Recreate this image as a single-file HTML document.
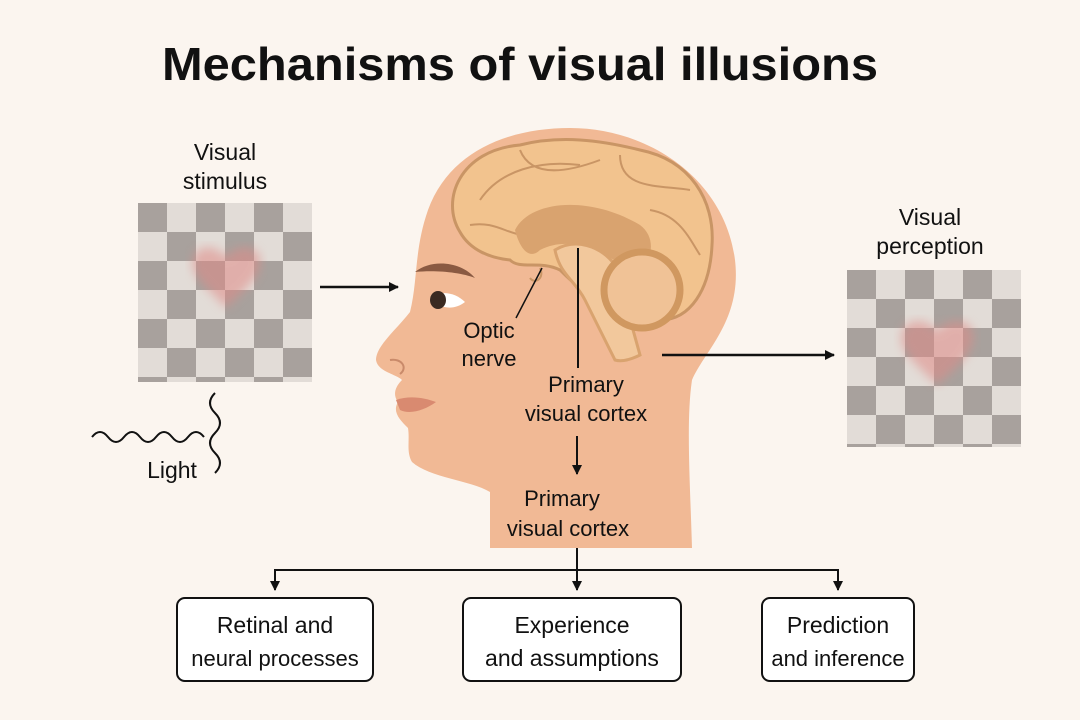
<!DOCTYPE html>
<html><head><meta charset="utf-8"><style>
body{margin:0;background:#fbf5ef;}
svg{display:block}
text{font-family:"Liberation Sans","DejaVu Sans",sans-serif;fill:#111}
</style></head><body>
<svg width="1080" height="720" viewBox="0 0 1080 720" xmlns="http://www.w3.org/2000/svg">
<defs>
<marker id="ah" markerWidth="10" markerHeight="10" refX="9" refY="5" orient="auto" markerUnits="userSpaceOnUse"><path d="M0,0 L10,5 L0,10 z" fill="#111"/></marker>
<filter id="bl"><feGaussianBlur stdDeviation="5"/></filter>
<pattern id="chk" width="58" height="58" patternUnits="userSpaceOnUse">
<rect width="58" height="58" fill="#e2dcd7"/><rect width="29" height="29" fill="#a8a19d"/><rect x="29" y="29" width="29" height="29" fill="#a8a19d"/></pattern>
</defs>
<rect width="1080" height="720" fill="#fbf5ef"/>
<text x="520" y="80" font-size="46" font-weight="bold" text-anchor="middle" textLength="716" lengthAdjust="spacingAndGlyphs">Mechanisms of visual illusions</text>

<text x="225" y="160" font-size="23" text-anchor="middle">Visual</text>
<text x="225" y="189" font-size="23" text-anchor="middle">stimulus</text>
<g transform="translate(138,203)"><rect width="174" height="179" fill="url(#chk)"/>
<path d="M88,105 C70,85 50,70 55,55 C60,40 80,42 88,55 C96,42 118,40 122,55 C126,72 105,88 88,105z" fill="#e08a86" opacity="0.55" filter="url(#bl)"/></g>

<text x="930" y="225" font-size="23" text-anchor="middle">Visual</text>
<text x="930" y="254" font-size="23" text-anchor="middle">perception</text>
<g transform="translate(847,270)"><rect width="174" height="177" fill="url(#chk)"/>
<path d="M90,115 C70,95 50,80 55,62 C60,47 82,48 90,62 C98,48 122,47 126,62 C130,80 110,97 90,115z" fill="#e08a86" opacity="0.55" filter="url(#bl)"/></g>

<path d="M92,437 q8,-10 16,0 t16,0 t16,0 t16,0 t16,0 t16,0 t16,0" fill="none" stroke="#111" stroke-width="2"/>
<path d="M215,393 q-10,10 0,20 t0,20 t0,20 t0,20" fill="none" stroke="#111" stroke-width="2"/>
<text x="172" y="478" font-size="23" text-anchor="middle">Light</text>

<!-- head -->
<path d="M490,548 L490,492 C470,480 430,478 412,462 C406,452 410,440 408,428 C400,420 392,412 398,402 C392,394 396,386 402,380 C396,374 378,372 376,360 C376,346 396,330 410,312 C418,280 414,250 428,210 C450,150 510,128 570,128 C650,128 725,180 735,260 C742,320 705,350 692,380 C686,420 690,480 692,548 Z" fill="#f1b995"/>
<path d="M415,272 C432,258 462,262 475,278 C460,272 435,270 415,272z" fill="#8a5a42"/>
<path d="M430,298 C440,290 455,292 465,302 C455,310 440,310 430,298z" fill="#fff"/>
<ellipse cx="438" cy="300" rx="8" ry="9" fill="#3a2a22"/>
<path d="M390,360 C402,358 408,368 400,374" fill="none" stroke="#c98a6a" stroke-width="2"/>
<path d="M396,400 C410,395 425,398 436,402 C425,410 410,415 400,410z" fill="#d98a70"/>
<!-- brain -->
<path d="M460,232 C440,200 460,150 520,145 C560,135 600,140 640,150 C690,160 715,200 712,245 C710,290 690,320 660,320 C620,320 590,300 560,270 C540,260 520,270 510,260 C490,258 470,250 460,232z" fill="#f2c38e" stroke="#c99565" stroke-width="3"/>
<path d="M480,200 C500,170 540,160 580,165 M520,150 C530,175 560,175 600,160 M620,155 C620,190 660,185 690,190 M470,225 C500,220 510,240 540,235 M650,210 C680,215 690,240 700,255" fill="none" stroke="#c99565" stroke-width="2"/>
<path d="M515,230 C530,200 590,195 640,225 C660,240 650,270 630,270 C600,250 570,235 540,250 C530,260 520,250 515,230z" fill="#d9a36f"/>
<path d="M555,250 C575,238 600,245 615,265 L640,355 C630,360 622,362 615,360 L585,300 C575,280 560,275 555,250z" fill="#f2c89c" stroke="#d9a36f" stroke-width="3"/>
<circle cx="642" cy="290" r="38" fill="#f0c296" stroke="#d09860" stroke-width="7"/>
<path d="M540,268 C545,278 535,285 530,278" fill="none" stroke="#c99565" stroke-width="2"/>
<line x1="542" y1="268" x2="516" y2="318" stroke="#111" stroke-width="1.5"/>
<line x1="578" y1="248" x2="578" y2="368" stroke="#111" stroke-width="2"/>
<text x="489" y="338" font-size="22" text-anchor="middle">Optic</text>
<text x="489" y="366" font-size="22" text-anchor="middle">nerve</text>
<text x="586" y="392" font-size="22" text-anchor="middle">Primary</text>
<text x="586" y="421" font-size="22" text-anchor="middle">visual cortex</text>
<line x1="577" y1="436" x2="577" y2="474" stroke="#111" stroke-width="2" marker-end="url(#ah)"/>
<text x="562" y="506" font-size="22" text-anchor="middle">Primary</text>
<text x="568" y="536" font-size="22" text-anchor="middle">visual cortex</text>

<line x1="320" y1="287" x2="398" y2="287" stroke="#111" stroke-width="2.5" marker-end="url(#ah)"/>
<line x1="662" y1="355" x2="834" y2="355" stroke="#111" stroke-width="2.5" marker-end="url(#ah)"/>

<!-- tree -->
<line x1="577" y1="548" x2="577" y2="590" stroke="#111" stroke-width="2" marker-end="url(#ah)"/>
<polyline points="275,590 275,570 838,570 838,590" fill="none" stroke="#111" stroke-width="2"/>
<line x1="275" y1="575" x2="275" y2="590" stroke="#111" stroke-width="2" marker-end="url(#ah)"/>
<line x1="838" y1="575" x2="838" y2="590" stroke="#111" stroke-width="2" marker-end="url(#ah)"/>
<rect x="177" y="598" width="196" height="83" rx="8" fill="#fff" stroke="#111" stroke-width="2"/>
<rect x="463" y="598" width="218" height="83" rx="8" fill="#fff" stroke="#111" stroke-width="2"/>
<rect x="762" y="598" width="152" height="83" rx="8" fill="#fff" stroke="#111" stroke-width="2"/>
<text x="275" y="633" font-size="23" text-anchor="middle">Retinal and</text>
<text x="275" y="666" font-size="22" text-anchor="middle">neural processes</text>
<text x="572" y="633" font-size="23" text-anchor="middle">Experience</text>
<text x="572" y="666" font-size="23" text-anchor="middle">and assumptions</text>
<text x="838" y="633" font-size="23" text-anchor="middle">Prediction</text>
<text x="838" y="666" font-size="22" text-anchor="middle">and inference</text>
</svg>
</body></html>
